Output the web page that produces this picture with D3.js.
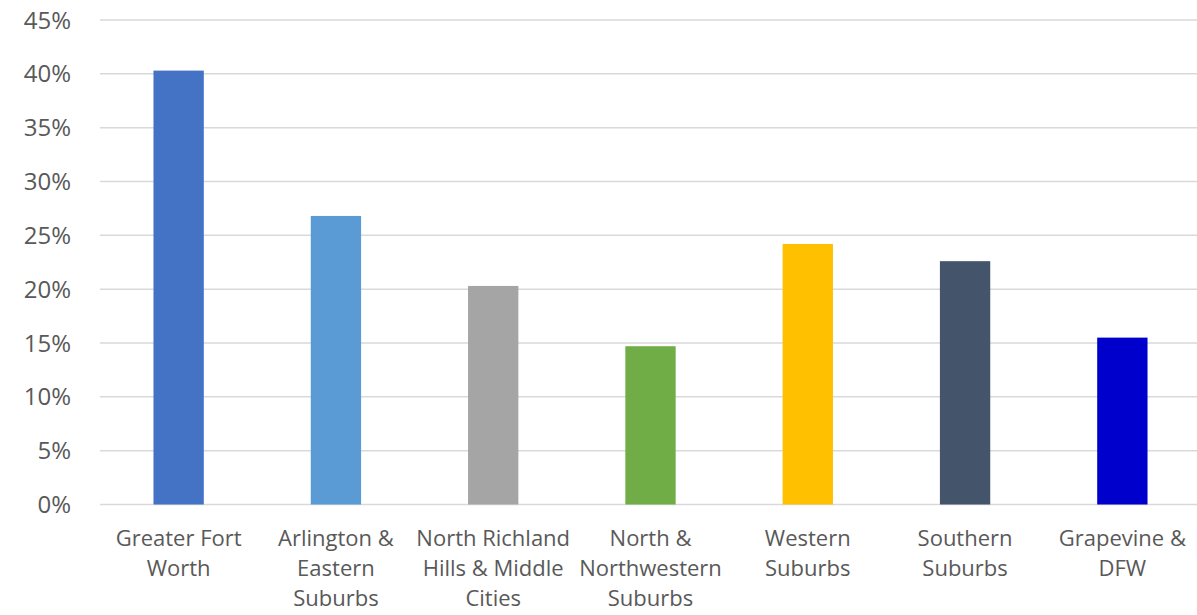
<!DOCTYPE html>
<html>
<head>
<meta charset="utf-8">
<script src="https://cdn.jsdelivr.net/npm/d3@7"></script>
<style>
  body { margin: 0; background: #fff; }
  svg { display: block; font-family: "Open Sans", sans-serif; }
</style>
</head>
<body>
<svg id="chart" width="1197" height="615"></svg>
<script>
// regions and their share (%)
const regions = ["Greater Fort Worth", "Arlington & Eastern Suburbs", "North Richland Hills & Middle Cities",
    "North & Northwestern Suburbs", "Western Suburbs", "Southern Suburbs", "Grapevine & DFW"];
const labelLines = [
    ["Greater Fort", "Worth"],
    ["Arlington &", "Eastern", "Suburbs"],
    ["North Richland", "Hills & Middle", "Cities"],
    ["North &", "Northwestern", "Suburbs"],
    ["Western", "Suburbs"],
    ["Southern", "Suburbs"],
    ["Grapevine &", "DFW"]
];
const shares = [40.3, 26.8, 20.3, 14.7, 24.2, 22.6, 15.5];
const barColors = ["#4472C4", "#5B9BD5", "#A5A5A5", "#70AD47", "#FFC000", "#44546A", "#0000CC"];
const yTicks = [0, 5, 10, 15, 20, 25, 30, 35, 40, 45];

const svg = d3.select("#chart");

let x = d3.scaleBand()
    .domain(regions)
    .range([100, 1201])
    .paddingInner(0.68)
    .paddingOuter(0.34);

let y = d3.scaleLinear()
    .domain([0, 45])
    .range([504.5, 20]);

// gridlines (also the base line at 0%)
svg.append("g")
    .selectAll("line")
    .data(yTicks)
    .join("line")
    .attr("x1", 100)
    .attr("x2", 1197)
    .attr("y1", d => y(d))
    .attr("y2", d => y(d))
    .style("stroke", "#D9D9D9")
    .style("stroke-width", 1.5);

// y axis labels
svg.append("g")
    .selectAll("text")
    .data(yTicks)
    .join("text")
    .attr("x", 71)
    .attr("y", d => y(d))
    .attr("dy", "0.36em")
    .attr("text-anchor", "end")
    .style("font-size", "24px")
    .style("fill", "#595959")
    .text(d => d + "%");

// bars
svg.append("g")
    .selectAll("rect")
    .data(shares)
    .join("rect")
    .attr("x", (d, i) => x(regions[i]))
    .attr("width", x.bandwidth())
    .attr("y", d => y(d))
    .attr("height", d => y(0) - y(d))
    .style("fill", (d, i) => barColors[i]);

// category labels, wrapped like the original
let cat = svg.append("g")
    .selectAll("text")
    .data(regions)
    .join("text")
    .attr("x", d => x(d) + x.bandwidth() / 2)
    .attr("y", 546)
    .attr("text-anchor", "middle")
    .style("font-size", "22px")
    .style("fill", "#595959");

cat.selectAll("tspan")
    .data((d, i) => labelLines[i])
    .join("tspan")
    .attr("x", function () { return d3.select(this.parentNode).attr("x"); })
    .attr("dy", (d, i) => i === 0 ? 0 : 30)
    .text(d => d);
</script>
</body>
</html>
